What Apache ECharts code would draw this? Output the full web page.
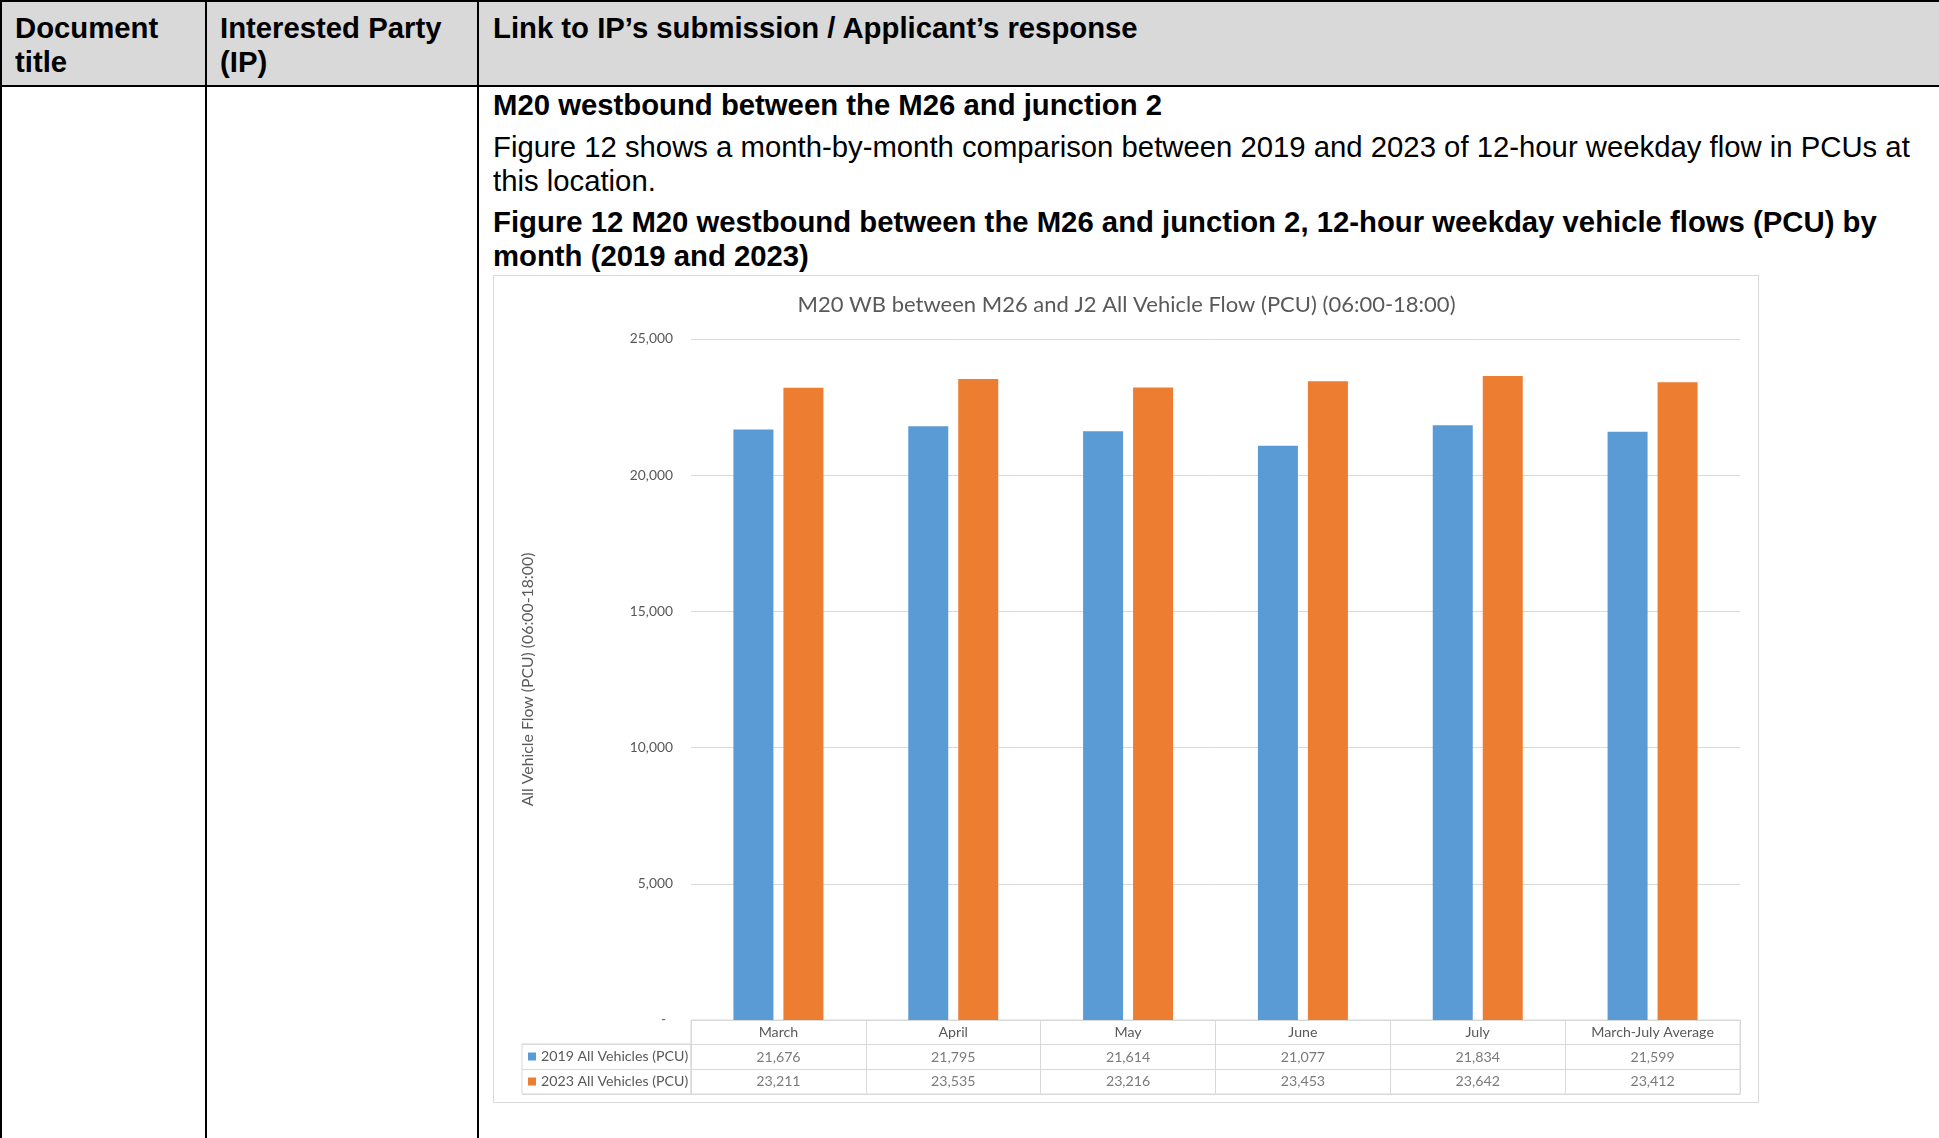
<!DOCTYPE html>
<html>
<head>
<meta charset="utf-8">
<script src="https://cdn.jsdelivr.net/npm/echarts@6/dist/echarts.min.js"></script>
<style>
  html, body { margin: 0; padding: 0; background: #fff; }
  body { width: 1939px; height: 1138px; position: relative; overflow: hidden; font-family: 'Liberation Sans', Arial, sans-serif; color: #000; }
  .band { position: absolute; left: 0; top: 0; width: 1939px; height: 86px; background: #d9d9d9; }
  .rule { position: absolute; background: #000; }
  .txt { position: absolute; white-space: nowrap; font-size: 29.3px; line-height: 33.5px; }
  .b { font-weight: bold; }
  #frame { position: absolute; left: 493px; top: 275px; width: 1266px; height: 828px; box-sizing: border-box; border: 1px solid #d9d9d9; pointer-events: none; }
  #chart { position: absolute; left: 493px; top: 275px; width: 1267px; height: 829px; }
</style>
</head>
<body>
  <div class="band"></div>
  <div class="rule" style="left:0;top:0;width:1939px;height:2px"></div>
  <div class="rule" style="left:0;top:85px;width:1939px;height:2px"></div>
  <div class="rule" style="left:0;top:0;width:2px;height:1138px"></div>
  <div class="rule" style="left:205px;top:0;width:2px;height:1138px"></div>
  <div class="rule" style="left:477px;top:0;width:2px;height:1138px"></div>

  <div class="txt b" style="left:15px;top:11px">Document<br>title</div>
  <div class="txt b" style="left:220px;top:11px">Interested Party<br>(IP)</div>
  <div class="txt b" style="left:493px;top:11px">Link to IP’s submission / Applicant’s response</div>

  <div class="txt b" style="left:493px;top:88px">M20 westbound between the M26 and junction 2</div>
  <div class="txt" style="left:493px;top:130px">Figure 12 shows a month-by-month comparison between 2019 and 2023 of 12-hour weekday flow in PCUs at<br>this location.</div>
  <div class="txt b" style="left:493px;top:205px">Figure 12 M20 westbound between the M26 and junction 2, 12-hour weekday vehicle flows (PCU) by<br>month (2019 and 2023)</div>

  <div id="chart"></div>
  <div id="frame"></div>

<script>
// Chart content
const chartTitle = 'M20 WB between M26 and J2 All Vehicle Flow (PCU) (06:00-18:00)';
const axisTitle = 'All Vehicle Flow (PCU) (06:00-18:00)';
const categories = ['March', 'April', 'May', 'June', 'July', 'March-July Average'];
const seriesNames = ['2019 All Vehicles (PCU)', '2023 All Vehicles (PCU)'];
const flow2019 = [21676, 21795, 21614, 21077, 21834, 21599];
const flow2023 = [23211, 23535, 23216, 23453, 23642, 23412];
const yMin = 0;
const yMax = 25000;
const yStep = 5000;
const seriesColors = ['#5b9bd5', '#ed7d31'];

const textGrey = '#595959';
const lineGrey = '#d9d9d9';
const font = 'Lato, "Open Sans", sans-serif';

const fmt = v => v === 0 ? '-\u2002' : v.toLocaleString('en-US');

// data-table cells: [column, row, value]
const tableCells = [];
[flow2019, flow2023].forEach((arr, r) => {
  arr.forEach((v, i) => tableCells.push([i, r + 1, v]));
});

const chart = echarts.init(document.getElementById('chart'), null, { renderer: 'canvas' });
chart.setOption({
  animation: false,
  title: {
    text: chartTitle,
    left: 'center',
    top: 14,
    textStyle: { fontFamily: font, fontSize: 22, fontWeight: 'normal', color: textGrey }
  },
  grid: [
    { left: 198, top: 64, width: 1049, height: 681 },
    { left: 198, top: 745, width: 1049, height: 74, show: true, borderColor: lineGrey, borderWidth: 1, backgroundColor: 'transparent' },
    { left: 29, top: 769, width: 169, height: 50, show: true, borderColor: lineGrey, borderWidth: 1, backgroundColor: 'transparent' }
  ],
  xAxis: [
    {
      type: 'category', gridIndex: 0, data: categories,
      axisLine: { show: true, lineStyle: { color: lineGrey, width: 1 } },
      axisTick: { show: false },
      axisLabel: { interval: 0, margin: 5, color: textGrey, fontFamily: font, fontSize: 14.2 },
      splitLine: { show: false }
    },
    {
      type: 'category', gridIndex: 1, data: categories,
      axisLine: { show: false }, axisTick: { show: false }, axisLabel: { show: false },
      splitLine: { show: true, interval: 0, lineStyle: { color: lineGrey, width: 1 } }
    },
    {
      type: 'value', gridIndex: 2, show: false
    }
  ],
  yAxis: [
    {
      type: 'value', gridIndex: 0, min: yMin, max: yMax, interval: yStep,
      name: axisTitle, nameLocation: 'middle', nameRotate: 90, nameGap: 155,
      nameTextStyle: { fontFamily: font, fontSize: 15.8, color: textGrey },
      axisLine: { show: false }, axisTick: { show: false },
      axisLabel: { margin: 18, color: textGrey, fontFamily: font, fontSize: 13.8, formatter: fmt },
      splitLine: { show: true, lineStyle: { color: lineGrey, width: 1 } }
    },
    {
      type: 'category', gridIndex: 1, inverse: true, data: ['', ...seriesNames],
      axisLine: { show: false }, axisTick: { show: false }, axisLabel: { show: false },
      splitLine: { show: true, interval: 0, lineStyle: { color: lineGrey, width: 1 } }
    },
    {
      type: 'category', gridIndex: 2, inverse: true, data: seriesNames,
      axisLine: { show: false }, axisTick: { show: false },
      splitLine: { show: true, interval: 0, lineStyle: { color: lineGrey, width: 1 } },
      axisLabel: {
        inside: true, margin: 6, interval: 0,
        formatter: (name, idx) => '{k' + idx + '|}{t|' + name + '}',
        rich: {
          k0: { width: 8, height: 8, backgroundColor: seriesColors[0] },
          k1: { width: 8, height: 8, backgroundColor: seriesColors[1] },
          t: { padding: [0, 0, 0, 5], color: textGrey, fontFamily: font, fontSize: 14.2 }
        }
      }
    }
  ],
  series: [
    {
      name: seriesNames[0], type: 'bar', xAxisIndex: 0, yAxisIndex: 0,
      data: flow2019, barWidth: 40, barGap: '25%',
      itemStyle: { color: seriesColors[0] }
    },
    {
      name: seriesNames[1], type: 'bar', xAxisIndex: 0, yAxisIndex: 0,
      data: flow2023, barWidth: 40, barGap: '25%',
      itemStyle: { color: seriesColors[1] }
    },
    {
      type: 'scatter', xAxisIndex: 1, yAxisIndex: 1,
      data: tableCells, symbolSize: 1,
      encode: { x: 0, y: 1 },
      itemStyle: { color: 'rgba(0,0,0,0)' },
      label: {
        show: true, position: 'inside',
        formatter: p => fmt(p.value[2]),
        color: textGrey, fontFamily: font, fontSize: 14.2
      },
      silent: true
    }
  ]
});
</script>
</body>
</html>
